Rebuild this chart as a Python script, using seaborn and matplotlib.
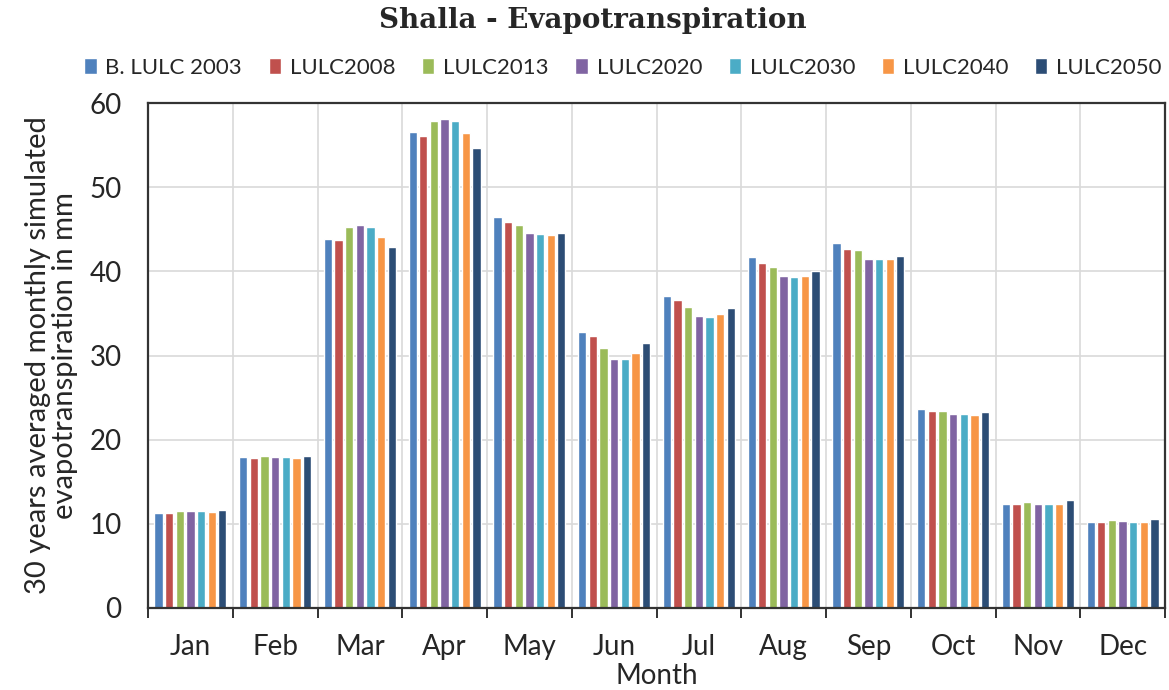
import matplotlib
matplotlib.use("Agg")
import matplotlib.pyplot as plt
import seaborn as sns
import pandas as pd

months = ["Jan", "Feb", "Mar", "Apr", "May", "Jun", "Jul", "Aug", "Sep", "Oct", "Nov", "Dec"]
series_names = ["B. LULC 2003", "LULC2008", "LULC2013", "LULC2020", "LULC2030", "LULC2040", "LULC2050"]

lulc2003 = [11.3, 17.9, 43.8, 56.5, 46.4, 32.8, 37.1, 41.7, 43.4, 23.6, 12.4, 10.2]
lulc2008 = [11.3, 17.8, 43.7, 56.1, 45.9, 32.3, 36.6, 41.0, 42.7, 23.4, 12.4, 10.2]
lulc2013 = [11.55, 18.1, 45.3, 57.9, 45.5, 30.9, 35.8, 40.5, 42.5, 23.4, 12.55, 10.4]
lulc2020 = [11.5, 18.0, 45.45, 58.1, 44.5, 29.6, 34.7, 39.4, 41.5, 23.0, 12.3, 10.3]
lulc2030 = [11.5, 17.9, 45.3, 57.9, 44.4, 29.6, 34.6, 39.35, 41.5, 23.0, 12.3, 10.25]
lulc2040 = [11.4, 17.85, 44.1, 56.4, 44.3, 30.3, 34.95, 39.5, 41.5, 22.95, 12.4, 10.25]
lulc2050 = [11.6, 18.05, 42.95, 54.6, 44.5, 31.5, 35.7, 40.0, 41.8, 23.3, 12.85, 10.6]

colors = ["#4F81BD", "#C0504D", "#9BBB59", "#8064A2", "#4BACC6", "#F79646", "#2C4D75"]

all_series = [lulc2003, lulc2008, lulc2013, lulc2020, lulc2030, lulc2040, lulc2050]
rows = []
for name, vals in zip(series_names, all_series):
    for m, v in zip(months, vals):
        rows.append({"Month": m, "Series": name, "Value": v})
df = pd.DataFrame(rows)

sns.set_theme(style="white")
plt.rcParams["font.family"] = ["Lato", "DejaVu Sans"]

fig = plt.figure(figsize=(11.69, 6.90), dpi=100)
ax = fig.add_axes([148 / 1169, 1 - 608 / 690, (1165 - 148) / 1169, (608 - 103) / 690])

sns.barplot(data=df, x="Month", y="Value", hue="Series", order=months,
            hue_order=series_names, palette=colors, width=0.88, gap=0.22,
            saturation=1, ax=ax, legend=True)

ax.set_ylim(0, 60)
ax.set_yticks(range(0, 61, 10))
ax.set_xlim(-0.5, 11.5)
ax.set_axisbelow(True)
ax.yaxis.grid(True, color="#d9d9d9", linewidth=1.2)
# vertical gridlines at category boundaries
ax.set_xticks([i - 0.5 for i in range(13)], minor=True)
ax.xaxis.grid(True, which="minor", color="#d9d9d9", linewidth=1.2)
ax.tick_params(axis="x", which="minor", length=7, width=1.3, color="#222222", direction="out", bottom=True)
ax.tick_params(axis="x", which="major", length=0, labelsize=20, pad=19)
ax.tick_params(axis="y", length=0, labelsize=20, pad=19)
for sp in ax.spines.values():
    sp.set_visible(True)
    sp.set_color("#333333")
    sp.set_linewidth(1.6)

ax.set_xlabel("Month", fontsize=20, labelpad=2)
ax.set_ylabel("30 years averaged monthly simulated\nevapotranspiration in mm", fontsize=21, labelpad=8,
              linespacing=1.05)

fig.suptitle("Shalla - Evapotranspiration", x=0.507, y=0.99, fontsize=20, fontweight="bold",
             family=["DejaVu Serif"])

handles, labels = ax.get_legend_handles_labels()
ax.legend_.remove()
fig.legend(handles, labels, loc="upper center", bbox_to_anchor=(0.533, 0.945), ncol=7,
           frameon=False, fontsize=16, handlelength=0.55, handleheight=0.7, handletextpad=0.4,
           columnspacing=1.2)

fig.savefig("out.png", dpi=100)
